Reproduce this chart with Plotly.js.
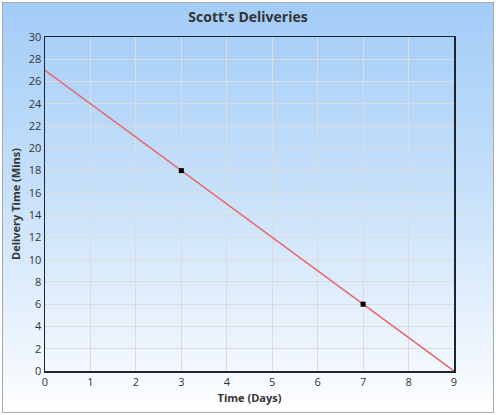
<!DOCTYPE html>
<html>
<head>
<meta charset="utf-8">
<script src="https://cdn.plot.ly/plotly-3.0.1.min.js"></script>
<style>
html,body{margin:0;padding:0;background:#fff;}
#wrap{position:absolute;left:0;top:0;width:496px;height:415px;}
#bg{position:absolute;left:2px;top:2px;width:490px;height:409px;border:1px solid #a9a9a9;
background:linear-gradient(to bottom,#a2ccf7 0%,#c6e0fa 45%,#eef5fd 85%,#ffffff 100%);}
#chart{position:absolute;left:0;top:0;width:496px;height:415px;}
</style>
</head>
<body>
<div id="wrap"><div id="bg"></div><div id="chart"></div></div>
<script>
var lineX = [0, 9];
var lineY = [27, 0];
var pointX = [3, 7];
var pointY = [18, 6];
var titleText = "Scott's Deliveries";
var xTitle = "Time (Days)";
var yTitle = "Delivery Time (Mins)";

var traces = [
  {x: lineX, y: lineY, mode: 'lines', line: {color: '#e8666a', width: 1.5}, hoverinfo: 'none'},
  {x: pointX, y: pointY, mode: 'markers', marker: {color: '#000', size: 5, symbol: 'square'}, hoverinfo: 'none'}
];
var font = {family: '"Open Sans", sans-serif', color: '#333', size: 11};
var layout = {
  width: 496, height: 415,
  paper_bgcolor: 'rgba(0,0,0,0)', plot_bgcolor: 'rgba(0,0,0,0)',
  margin: {l: 45, r: 42, t: 37, b: 44},
  showlegend: false,
  font: font,
  title: {text: '<b>' + titleText + '</b>', x: 0.5, xanchor: 'center', yref: 'container', y: 0.958, yanchor: 'middle',
          font: {family: '"Open Sans", sans-serif', size: 14, color: '#333'}},
  xaxis: {range: [0, 9], dtick: 1, tick0: 0, showgrid: true, gridcolor: '#dcdcdc', gridwidth: 1,
          zeroline: false, showline: true, linecolor: '#1c2530', linewidth: 1.5, mirror: true,
          ticks: '', ticklen: 0, tickfont: {size: 11, color: '#333'},
          title: {text: '<b>' + xTitle + '</b>', font: {size: 11, color: '#333'}, standoff: 6}},
  yaxis: {range: [0, 30], dtick: 2, tick0: 0, showgrid: true, gridcolor: '#dcdcdc', gridwidth: 1,
          zeroline: false, showline: true, linecolor: '#1c2530', linewidth: 1.5, mirror: true,
          ticks: '', ticklen: 0, tickfont: {size: 11, color: '#333'},
          title: {text: '<b>' + yTitle + '</b>', font: {size: 11, color: '#333'}, standoff: 6}}
};
Plotly.newPlot('chart', traces, layout, {displayModeBar: false, staticPlot: true});
</script>
</body>
</html>
